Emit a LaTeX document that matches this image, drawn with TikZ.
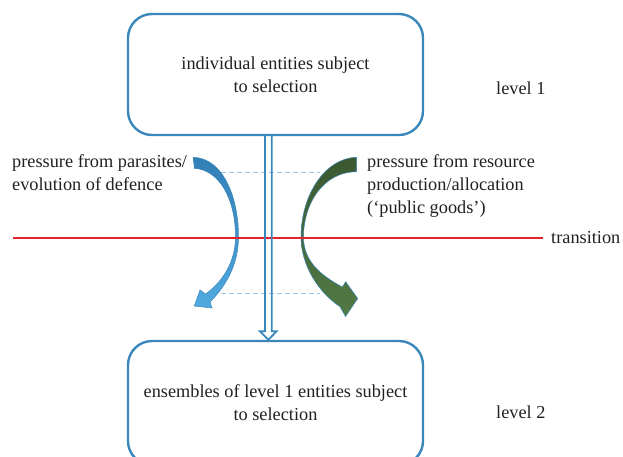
\documentclass[tikz,border=0pt]{standalone}
\usepackage{fontspec}
\setmainfont{Liberation Serif}
\usetikzlibrary{calc}
\definecolor{boxblue}{RGB}{58,135,187}
\definecolor{txt}{RGB}{35,31,32}
\definecolor{redline}{RGB}{230,35,40}
\definecolor{dashblue}{RGB}{150,195,230}
\definecolor{arrblueA}{RGB}{50,126,182}
\definecolor{arrblueB}{RGB}{80,170,224}
\definecolor{arrgreenA}{RGB}{58,88,48}
\definecolor{arrgreenB}{RGB}{82,122,68}
\begin{document}
\begin{tikzpicture}[x=1pt,y=-1pt,
  every node/.style={text=txt, font=\fontsize{18.3}{22.8}\selectfont},
  entitybox/.style={draw=boxblue, line width=2.4pt, rounded corners=24pt, align=center,
    minimum width=295pt, minimum height=121pt, inner sep=0pt},
  sidetext/.style={align=left, inner sep=0pt, anchor=base west},
  guide/.style={draw=dashblue, dash pattern=on 5pt off 3pt, line width=1pt},
  hollowarrow/.style={draw=boxblue, line width=1.8pt, line join=miter},
  bluecurve/.style={top color=arrblueA, bottom color=arrblueB, draw=boxblue, line width=0.5pt},
  greencurve/.style={top color=arrgreenA, bottom color=arrgreenB, draw=boxblue, line width=0.5pt}]
\useasboundingbox (0,0) rectangle (623,457);

% boxes
\node[entitybox] (top) at (275.5,74.5) {individual entities subject\\to selection};
\node[entitybox, minimum height=124pt] (bottom) at (275.5,403) {ensembles of level 1 entities subject\\to selection};

% side labels (base anchor = last line's baseline)
\node[sidetext] (lt) at (12,190) {pressure from parasites/\\evolution of defence};
\node[sidetext] (rt) at (367,213) {pressure from resource\\production/allocation\\(‘public goods’)};
\node[sidetext] (l1) at (496,95) {level 1};
\node[sidetext] (l2) at (496,418) {level 2};

% guide lines
\coordinate (g1a) at (221,172.7); \coordinate (g1b) at (320,172.7);
\coordinate (g2a) at (221,293.3); \coordinate (g2b) at (320,293.3);
\draw[guide] (g1a) -- (g1b);
\draw[guide] (g2a) -- (g2b);

% curved arrows
\path[bluecurve]
  (193.3,157.3) .. controls (222,158) and (238.5,195) .. (238.5,237)
  .. controls (238.5,262) and (228,284) .. (210,302)
  -- (212,308) -- (194.3,306) -- (200,290) -- (205.5,294)
  .. controls (224,281) and (235.5,260) .. (235.5,237)
  .. controls (235.5,200) and (220,170) .. (194.3,168.3) -- cycle;
\path[greencurve]
  (356.7,157.3) .. controls (325,158) and (301,195) .. (301,237)
  .. controls (301,265) and (318,292) .. (340,306.7)
  -- (345.5,316.5) -- (357.7,298.5) -- (345.7,281.7) -- (342.3,287)
  .. controls (322,276) and (303.5,262) .. (303.5,237)
  .. controls (303.5,205) and (322,172) .. (356.7,171.7) -- cycle;

% transition line
\coordinate (tl) at (13,237.7);
\node[anchor=base west, inner sep=4pt] (trans) at (547,243.5) {transition};
\draw[redline, line width=2pt, shorten >=4pt] (tl) -- (tl -| trans.west);

% hollow double arrow
\coordinate (ds) at ($(top.south)+(-7.2,0)$);
\coordinate (de) at ($(bottom.north)+(-7.2,0)$);
\draw[hollowarrow] ($(ds)+(-3.4,0)$) -- ($(de)+(-3.4,-8.5)$) -- ($(de)+(-8.3,-8.5)$)
  -- (de) -- ($(de)+(8.3,-8.5)$) -- ($(de)+(3.4,-8.5)$) -- ($(ds)+(3.4,0)$);
\end{tikzpicture}
\end{document}
